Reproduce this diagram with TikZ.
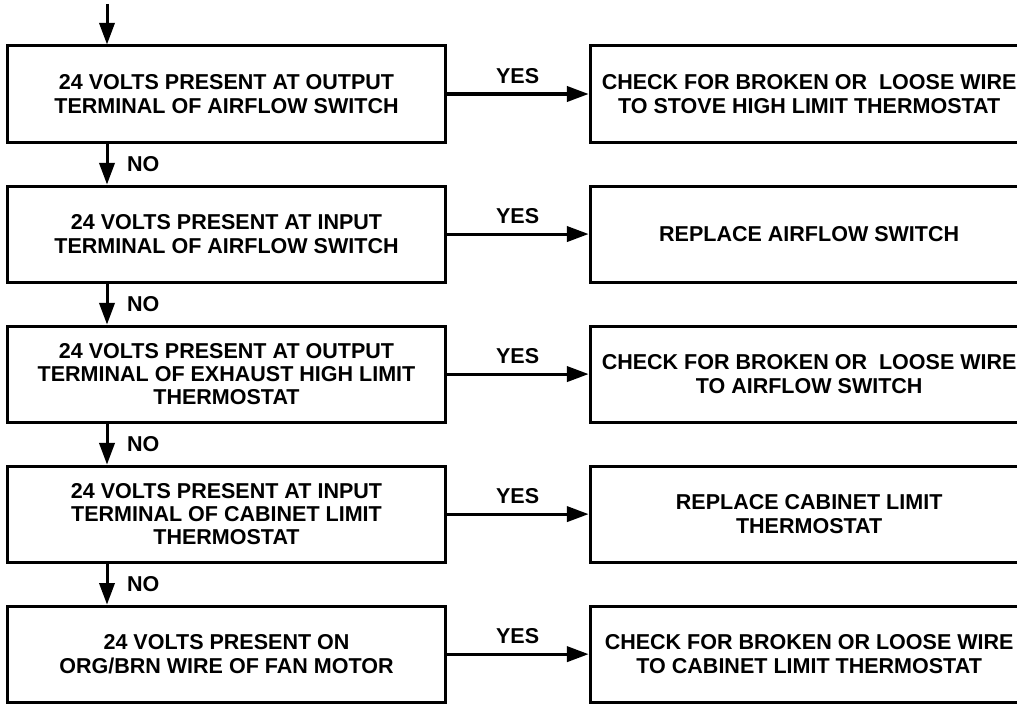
\documentclass[tikz,border=0pt]{standalone}
\usepackage{fontspec}
\setmainfont{Liberation Sans}
\usetikzlibrary{positioning, arrows.meta}
\tikzset{
    testbox/.style={draw, rectangle, line width=0.075cm, minimum width=10.925cm, minimum height=2.4cm, align=center, font=\bfseries\fontsize{15.3}{16.5}\selectfont},
    actbox/.style={testbox, minimum width=10.95cm},
    arrow/.style={line width=0.075cm, -{Triangle[length=0.54cm, width=0.38cm]}},
    answer/.style={font=\bfseries\fontsize{15.3}{16.5}\selectfont}
}

\begin{document}
\begin{tikzpicture}[x=0.025cm, y=-0.025cm]
\useasboundingbox (0,0) rectangle (1017,703);
% left column: checks
\node[testbox] (volts1) at (226.5,94) {24 VOLTS PRESENT AT OUTPUT\\TERMINAL OF AIRFLOW SWITCH};
\node[testbox, below=1.025cm of volts1] (volts2) {24 VOLTS PRESENT AT INPUT\\TERMINAL OF AIRFLOW SWITCH};
\node[testbox, below=1.025cm of volts2] (volts3) {24 VOLTS PRESENT AT OUTPUT\\TERMINAL OF EXHAUST HIGH LIMIT\\THERMOSTAT};
\node[testbox, below=1.025cm of volts3] (volts4) {24 VOLTS PRESENT AT INPUT\\TERMINAL OF CABINET LIMIT\\THERMOSTAT};
\node[testbox, below=1.025cm of volts4] (volts5) {24 VOLTS PRESENT ON\\ORG/BRN WIRE OF FAN MOTOR};
% right column: actions
\node[actbox, right=3.55cm of volts1] (fix1) {CHECK FOR BROKEN OR~ LOOSE WIRE\\TO STOVE HIGH LIMIT THERMOSTAT};
\node[actbox, right=3.55cm of volts2] (fix2) {REPLACE AIRFLOW SWITCH};
\node[actbox, right=3.55cm of volts3] (fix3) {CHECK FOR BROKEN OR~ LOOSE WIRE\\TO AIRFLOW SWITCH};
\node[actbox, right=3.55cm of volts4] (fix4) {REPLACE CABINET LIMIT\\THERMOSTAT};
\node[actbox, right=3.55cm of volts5] (fix5) {CHECK FOR BROKEN OR LOOSE WIRE\\TO CABINET LIMIT THERMOSTAT};
\coordinate (start) at (107,4);
% NO arrows
\draw[arrow] (start) -- (start |- volts1.north);
\draw[arrow] (start |- volts1.south) -- node[answer, right=0.35cm] {NO} (start |- volts2.north);
\draw[arrow] (start |- volts2.south) -- node[answer, right=0.35cm] {NO} (start |- volts3.north);
\draw[arrow] (start |- volts3.south) -- node[answer, right=0.35cm] {NO} (start |- volts4.north);
\draw[arrow] (start |- volts4.south) -- node[answer, right=0.35cm] {NO} (start |- volts5.north);
% YES arrows
\draw[arrow] (volts1) -- node[answer, above=3pt] {YES} (fix1);
\draw[arrow] (volts2) -- node[answer, above=3pt] {YES} (fix2);
\draw[arrow] (volts3) -- node[answer, above=3pt] {YES} (fix3);
\draw[arrow] (volts4) -- node[answer, above=3pt] {YES} (fix4);
\draw[arrow] (volts5) -- node[answer, above=3pt] {YES} (fix5);
\end{tikzpicture}
\end{document}
